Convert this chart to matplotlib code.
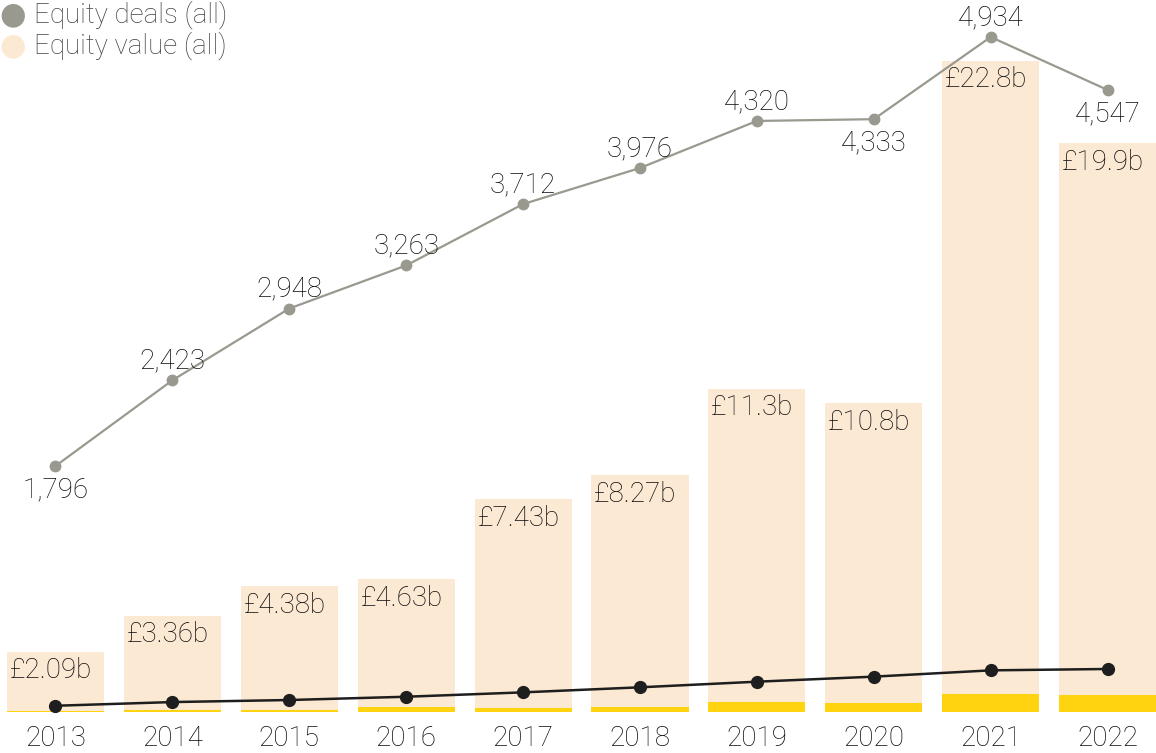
import numpy as np
import matplotlib.pyplot as plt

years = ["2013", "2014", "2015", "2016", "2017", "2018", "2019", "2020", "2021", "2022"]
equity_value = [2.09, 3.36, 4.38, 4.63, 7.43, 8.27, 11.3, 10.8, 22.8, 19.9]   # £b
value_labels = ["£2.09b", "£3.36b", "£4.38b", "£4.63b", "£7.43b", "£8.27b",
                "£11.3b", "£10.8b", "£22.8b", "£19.9b"]
equity_deals = [1796, 2423, 2948, 3263, 3712, 3976, 4320, 4333, 4934, 4547]
# smaller series, no labels in the chart -> read off pixel positions
sub_value = [0.01, 0.05, 0.05, 0.16, 0.12, 0.16, 0.32, 0.29, 0.63, 0.57]     # £b
sub_deals = [42, 69, 84, 108, 140, 177, 218, 255, 301, 311]
label_below = [True, False, False, False, False, False, False, True, False, True]

C_GREY = "#9a998f"
C_PEACH = "#fce9d3"
C_YELLOW = "#ffd30f"
C_BLACK = "#1e1e1e"
C_TEXT = "#0a0a0a"

plt.rcParams['font.family'] = ['Roboto', 'DejaVu Sans']
FS = 20

W, H = 1156, 753
fig = plt.figure(figsize=(W / 100, H / 100), dpi=100)
ax = fig.add_axes([0, 0, 1, 1])
ax2 = ax.twinx()

# pixel layout
x0, dx = 55.5, 116.9          # centre of first bar, bar spacing
base = H - 711.5              # baseline in px from bottom
px_b = 28.55                  # px per £1b
px_d = 0.1367                 # px per deal

x = np.arange(len(years))
ax.set_xlim(-x0 / dx, (W - x0) / dx)
ax.set_ylim(-base / px_b, (H - base) / px_b)
ax2.set_ylim(-base / px_d, (H - base) / px_d)

ax.bar(x, equity_value, width=0.83, color=C_PEACH, zorder=1)
ax.bar(x, sub_value, width=0.83, color=C_YELLOW, zorder=2)

for i, lab in enumerate(value_labels):
    ax.annotate(lab, (x[i] - 0.415, equity_value[i]), xytext=(2, -4),
                textcoords="offset points", ha="left", va="top",
                fontsize=FS, color=C_TEXT, fontweight="light")

ax2.plot(x, equity_deals, color=C_GREY, lw=1.6, marker="o", ms=7.5, zorder=3)
ax2.plot(x, sub_deals, color=C_BLACK, lw=1.8, marker="o", ms=8.5, zorder=3)

for i, v in enumerate(equity_deals):
    off = -17 if label_below[i] else 14
    ax2.annotate(f"{v:,}", (x[i], v), xytext=(0, off), textcoords="offset points",
                 ha="center", va="center", fontsize=FS, color=C_TEXT,
                 fontweight="light")

# year labels under the bars
for i, yr in enumerate(years):
    ax.annotate(yr, (x[i], 0), xytext=(0, -19.5), textcoords="offset points",
                ha="center", va="center", fontsize=FS, color=C_TEXT,
                fontweight="light")

ax.set_xticks([])
ax.set_yticks([])
ax2.set_yticks([])
for a in (ax, ax2):
    for s in a.spines.values():
        s.set_visible(False)

# legend
fig.text(13 / W, 1 - 15 / H, "●", fontsize=22, color=C_GREY, ha="center", va="center")
fig.text(13 / W, 1 - 46 / H, "●", fontsize=22, color=C_PEACH, ha="center", va="center")
fig.text(34 / W, 1 - 15 / H, "Equity deals (all)", fontsize=FS, color="#444444",
         ha="left", va="center", fontweight="light")
fig.text(34 / W, 1 - 46 / H, "Equity value (all)", fontsize=FS, color="#444444",
         ha="left", va="center", fontweight="light")

fig.savefig("out.png", dpi=100)
